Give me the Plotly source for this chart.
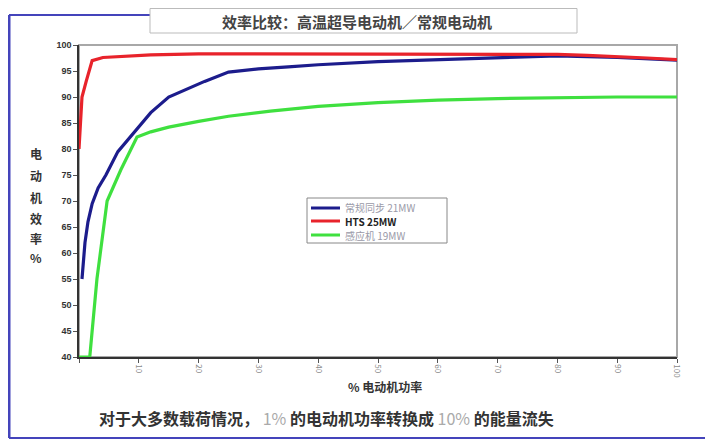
import plotly.graph_objects as go

# ---------------- data ----------------
title_text = "效率比较：高温超导电动机／常规电动机"
y_title_chars = ["电", "动", "机", "效", "率", "%"]
x_title = "% 电动机功率"
footnote_parts = ["对于大多数载荷情况， ", "1%", " 的电动机功率转换成 ", "10%", " 的能量流失"]

series_names = ["常规同步 21MW", "HTS 25MW", "感应机 19MW"]

blue_x = [0.5, 1.0, 1.5, 2.2, 3.2, 4.5, 6.5, 9, 12, 15, 18, 21, 25, 30, 35, 40, 50, 60, 70, 80, 90, 100]
blue_y = [55, 62, 66, 69.5, 72.5, 75, 79.5, 83, 87, 90, 91.5, 93, 94.8, 95.4, 95.8, 96.2, 96.8, 97.2, 97.6, 97.9, 97.6, 97.1]

red_x = [0, 0.2, 0.5, 1.2, 2.2, 4, 8, 12, 20, 30, 40, 50, 60, 70, 80, 85, 90, 95, 100]
red_y = [80, 85, 90, 93, 97, 97.6, 97.9, 98.1, 98.3, 98.3, 98.3, 98.3, 98.3, 98.3, 98.2, 98.0, 97.8, 97.5, 97.2]

green_x = [0, 1.8, 3.0, 4.7, 7, 9.7, 12, 15, 20, 25, 32, 40, 50, 60, 70, 80, 90, 100]
green_y = [40, 40, 55, 70, 76, 82.3, 83.3, 84.2, 85.3, 86.3, 87.3, 88.2, 88.9, 89.4, 89.7, 89.9, 90, 90]

x_ticks = list(range(0, 101, 10))
x_ticklabels = [""] + [str(v) for v in range(10, 101, 10)]
y_ticks = list(range(40, 101, 5))
y_ticklabels = [f"<b>{v}</b>" for v in y_ticks]

# ---------------- layout geometry ----------------
OFF = 8  # page body margin
W, H = 713 - OFF, 441 - OFF
L, R, T, B = 71, 36, 37, 84
PW, PH = W - L - R, H - T - B


def px(xp):  # page pixel -> paper
    return (xp - OFF - L) / PW


def py(yp):
    return (H - B - (yp - OFF)) / PH


fig = go.Figure()
colors = ["#1c1c8c", "#e8232b", "#3fe03f"]
for xs, ys, c, n in [(blue_x, blue_y, colors[0], series_names[0]),
                     (red_x, red_y, colors[1], series_names[1]),
                     (green_x, green_y, colors[2], series_names[2])]:
    fig.add_trace(go.Scatter(x=xs, y=ys, mode="lines", name=n, showlegend=False,
                             line=dict(color=c, width=3.2)))

shapes = []
# outer blue frame (left, bottom, top-left piece)
shapes.append(dict(type="line", xref="paper", yref="paper", x0=px(9), x1=px(9), y0=py(15), y1=py(438),
                   line=dict(color="#4444bb", width=3)))
shapes.append(dict(type="line", xref="paper", yref="paper", x0=px(9), x1=px(713), y0=py(438), y1=py(438),
                   line=dict(color="#4444bb", width=2)))
shapes.append(dict(type="line", xref="paper", yref="paper", x0=px(9), x1=px(150), y0=py(15), y1=py(15),
                   line=dict(color="#4444bb", width=2)))
# title box
shapes.append(dict(type="rect", xref="paper", yref="paper", x0=px(150), x1=px(577), y0=py(8.5), y1=py(33),
                   line=dict(color="#bbbbbb", width=1), fillcolor="white"))
# plot area border (gray)
shapes.append(dict(type="rect", xref="paper", yref="paper", x0=0, x1=1, y0=0, y1=1,
                   line=dict(color="#a8a8a8", width=2), layer="below"))
# manual legend box
shapes.append(dict(type="rect", xref="paper", yref="paper", x0=px(307), x1=px(447), y0=py(198), y1=py(243),
                   line=dict(color="#888888", width=1), fillcolor="white"))
legend_rows = [208, 221, 235]
for c, yy in zip(colors, legend_rows):
    shapes.append(dict(type="line", xref="paper", yref="paper", x0=px(311), x1=px(340), y0=py(yy), y1=py(yy),
                       line=dict(color=c, width=3)))

annotations = []
annotations.append(dict(text=f"<b>{title_text}</b>", xref="paper", yref="paper", x=px(357), y=py(21),
                        showarrow=False, font=dict(size=15, color="#444444",
                                                   family="Noto Sans CJK SC"),
                        xanchor="center", yanchor="middle"))
for ch, yy in zip(y_title_chars, [153, 175, 197, 218, 238, 257]):
    annotations.append(dict(text=f"<b>{ch}</b>", xref="paper", yref="paper", x=px(36), y=py(yy),
                            showarrow=False, font=dict(size=12, color="#333333",
                                                       family="Noto Sans CJK SC"),
                            xanchor="center", yanchor="middle"))
annotations.append(dict(text=f"<b>{x_title}</b>", xref="paper", yref="paper", x=px(385), y=py(386),
                        showarrow=False, font=dict(size=12, color="#333333", family="Noto Sans CJK SC"),
                        xanchor="center", yanchor="middle"))
foot = (f"<b>{footnote_parts[0]}</b><span style='color:#aaaaaa'>{footnote_parts[1]}</span>"
        f"<b>{footnote_parts[2]}</b><span style='color:#aaaaaa'>{footnote_parts[3]}</span>"
        f"<b>{footnote_parts[4]}</b>")
annotations.append(dict(text=foot, xref="paper", yref="paper", x=px(326), y=py(418),
                        showarrow=False, font=dict(size=16, color="#333333", family="Noto Sans CJK SC"),
                        xanchor="center", yanchor="middle"))
legend_text_colors = ["#9a9aa8", "#222222", "#9a9aa8"]
for name, yy, tc in zip(series_names, legend_rows, legend_text_colors):
    label = f"<b>{name}</b>" if tc == "#222222" else name
    annotations.append(dict(text=label, xref="paper", yref="paper", x=px(343), y=py(yy),
                            showarrow=False, font=dict(size=10, color=tc, family="Noto Sans CJK SC"),
                            xanchor="left", yanchor="middle"))

fig.update_layout(
    width=W, height=H,
    margin=dict(l=L, r=R, t=T, b=B),
    paper_bgcolor="white", plot_bgcolor="white",
    font=dict(family="Noto Sans CJK SC, Liberation Sans, sans-serif"),
    shapes=shapes, annotations=annotations,
    showlegend=False,
    xaxis=dict(range=[0, 100], tickmode="array", tickvals=x_ticks, ticktext=x_ticklabels,
               tickangle=90, tickfont=dict(size=8, color="#8a8a8a"),
               showgrid=False, zeroline=False, showline=True, linecolor="#333333", linewidth=1.5,
               ticks="outside", ticklen=4, tickcolor="#555555"),
    yaxis=dict(range=[40, 100], tickmode="array", tickvals=y_ticks, ticktext=y_ticklabels,
               tickfont=dict(size=9, color="#333333", family="Liberation Sans"),
               showgrid=False, zeroline=False, showline=True, linecolor="#333333", linewidth=1.5,
               ticks="outside", ticklen=4, tickcolor="#555555"),
)

fig.write_html("out.html")
